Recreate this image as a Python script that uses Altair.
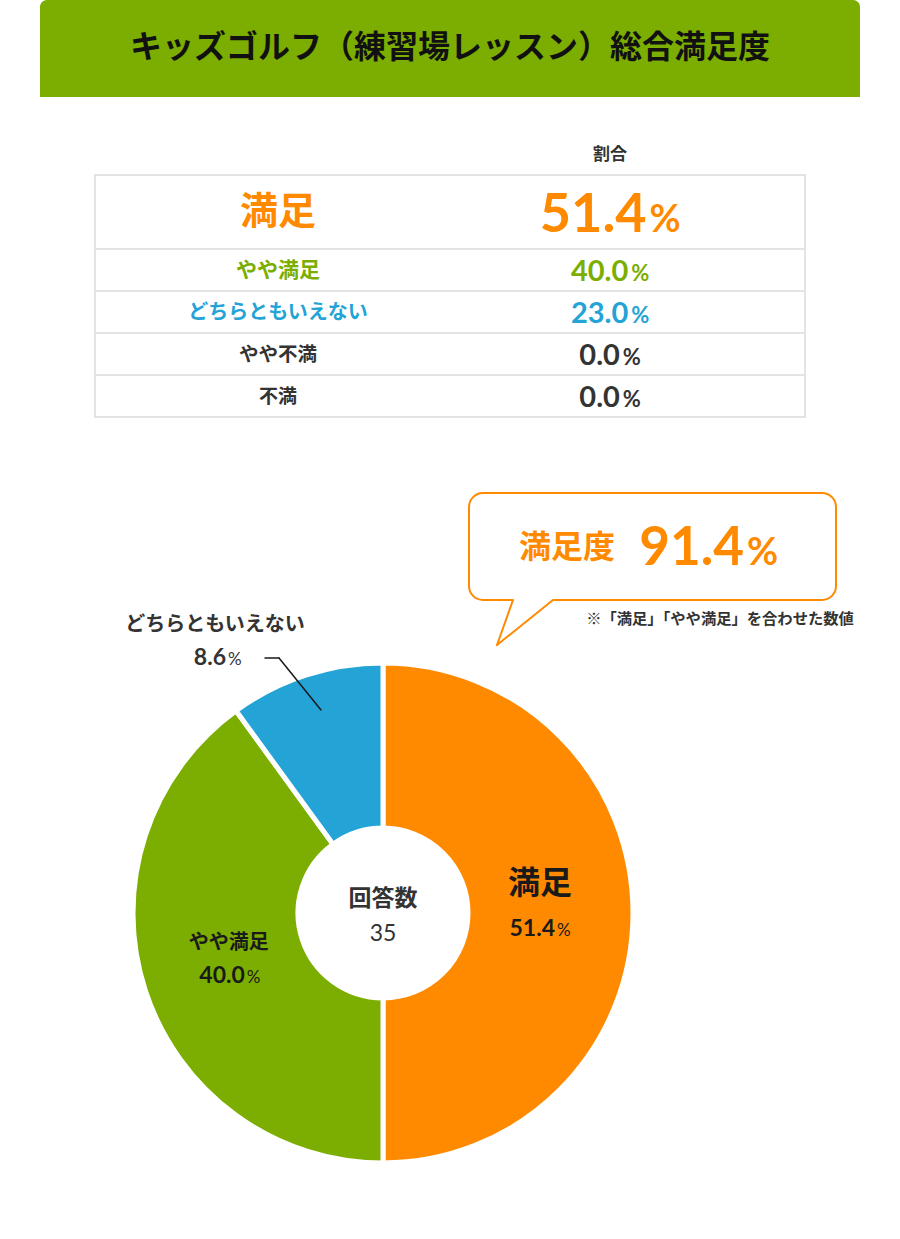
import altair as alt
import pandas as pd

# ---------------- data ----------------
title_text = "キッズゴルフ（練習場レッスン）総合満足度"
column_header = "割合"
table_labels = ["満足", "やや満足", "どちらともいえない", "やや不満", "不満"]
table_values = [51.4, 40.0, 23.0, 0.0, 0.0]
pie_labels = ["満足", "やや満足", "どちらともいえない"]
pie_values = [51.4, 40.0, 8.6]          # printed on the slices
pie_slice_share = [50.0, 40.0, 10.0]    # slice sizes as drawn in the picture
center_label = "回答数"
respondents = [35]
callout_label = "満足度"
callout_value = [91.4]
note_text = "※「満足」「やや満足」を合わせた数値"

# ---------------- style / layout ----------------
W, H = 900, 1225
JP = "Noto Sans CJK JP"
NUM = "Lato"
ORANGE = "#ff8a00"
GREEN = "#7bae00"
BLUE = "#23a3d6"
DARK = "#333333"
BLACK = "#1a1a1a"
GRID = "#e3e3e3"

row_colors = [ORANGE, GREEN, BLUE, DARK, DARK]
row_heights = [74, 42, 42, 42, 42]
label_sizes = [38, 21, 20, 19.5, 19]
num_sizes = [54, 29, 29, 29, 29]
pct_sizes = [38, 22, 22, 22, 22]
TABLE_L, TABLE_R, TABLE_T = 95, 805, 175
LABEL_X, VALUE_X = 278, 610

CX, CY, R_OUT, R_IN = 383, 913, 250, 85


def num_width(s, fs):
    w = 0.0
    for ch in s:
        w += 0.26 if ch == "." else 0.58
    return w * fs


def pct_width(fs):
    return 0.84 * fs


# table rows
tops = []
acc = TABLE_T
for h in row_heights:
    tops.append(acc)
    acc += h
TABLE_B = acc

rows = []
for i, (lab, val) in enumerate(zip(table_labels, table_values)):
    ns = f"{val:.1f}"
    nw = num_width(ns, num_sizes[i])
    pw = pct_width(pct_sizes[i])
    gap = 3
    total = nw + gap + pw
    split = VALUE_X - total / 2 + nw
    ymid = tops[i] + row_heights[i] / 2
    rows.append(dict(label=lab, num=ns, pct="%", ymid=ymid + 1,
                     base=ymid + 0.36 * num_sizes[i] + 1,
                     xl=LABEL_X, xn=split, xp=split + gap,
                     ls=label_sizes[i], ns=num_sizes[i], ps=pct_sizes[i],
                     color=row_colors[i]))
rows_df = pd.DataFrame(rows)
sep_df = pd.DataFrame({"yb": tops[1:]})


def vtext(text, x, y, size, color, font=JP, weight="bold", align="center", baseline="middle"):
    return alt.Chart(pd.DataFrame({"t": [text]})).mark_text(
        font=font, fontSize=size, fontWeight=weight, color=color, align=align, baseline=baseline
    ).encode(x=alt.value(x), y=alt.value(y), text="t:N")


def seg(x1, y1, x2, y2, color, width):
    return alt.Chart(pd.DataFrame({"a": [0]})).mark_rule(color=color, strokeWidth=width, strokeCap="round").encode(
        x=alt.value(x1), y=alt.value(y1), x2=alt.value(x2), y2=alt.value(y2))


layers = []

# header band
layers.append(alt.Chart(pd.DataFrame({"a": [0]})).mark_rect(
    color=GREEN, cornerRadiusTopLeft=7, cornerRadiusTopRight=7
).encode(x=alt.value(40), x2=alt.value(860), y=alt.value(0), y2=alt.value(97)))
layers.append(vtext(title_text, 450, 48, 32, "#111111"))

# table
layers.append(vtext(column_header, VALUE_X, 155, 17, DARK))
layers.append(alt.Chart(pd.DataFrame({"a": [0]})).mark_rect(
    fill="white", stroke=GRID, strokeWidth=2
).encode(x=alt.value(TABLE_L), x2=alt.value(TABLE_R), y=alt.value(TABLE_T), y2=alt.value(TABLE_B)))
layers.append(alt.Chart(sep_df).mark_rule(color=GRID, strokeWidth=2).encode(
    y=alt.Y("yb:Q", scale=None, axis=None), x=alt.value(TABLE_L), x2=alt.value(TABLE_R)))

base_rows = alt.Chart(rows_df)
layers.append(base_rows.mark_text(font=JP, fontWeight="bold", baseline="middle", align="center").encode(
    x=alt.X("xl:Q", scale=None, axis=None), y=alt.Y("ymid:Q", scale=None, axis=None),
    text="label:N", size=alt.Size("ls:Q", scale=None, legend=None),
    color=alt.Color("color:N", scale=None)))
layers.append(base_rows.mark_text(font=NUM, fontWeight="bold", baseline="alphabetic", align="right").encode(
    x=alt.X("xn:Q", scale=None, axis=None), y=alt.Y("base:Q", scale=None, axis=None),
    text="num:N", size=alt.Size("ns:Q", scale=None, legend=None),
    color=alt.Color("color:N", scale=None)))
layers.append(base_rows.mark_text(font=NUM, fontWeight="bold", baseline="alphabetic", align="left").encode(
    x=alt.X("xp:Q", scale=None, axis=None), y=alt.Y("base:Q", scale=None, axis=None),
    text="pct:N", size=alt.Size("ps:Q", scale=None, legend=None),
    color=alt.Color("color:N", scale=None)))

# pie
pie_df = pd.DataFrame({
    "label": pie_labels,
    "share": pie_slice_share,
    "order": list(range(len(pie_labels))),
    "color": [ORANGE, GREEN, BLUE],
})
pie_df["num"] = [f"{v:.1f}" for v in pie_values]
pie_df["pct"] = "%"

theta = alt.Theta("share:Q", stack=True)
order = alt.Order("order:Q")

layers.append(alt.Chart(pie_df).mark_arc(
    outerRadius=R_OUT, innerRadius=R_IN, stroke="white", strokeWidth=5
).encode(theta=theta, order=order, color=alt.Color("color:N", scale=None),
         x=alt.value(CX), y=alt.value(CY)))


def pie_text(field, idx, size, color, dx, dy, align, font, baseline, radius=160, weight="bold"):
    return alt.Chart(pie_df).transform_calculate(
        t=f"datum.order == {idx} ? datum.{field} : ''"
    ).mark_text(radius=radius, dx=dx, dy=dy, fontSize=size, font=font, fontWeight=weight,
                color=color, align=align, baseline=baseline).encode(
        theta=theta, order=order, text="t:N", x=alt.value(CX), y=alt.value(CY))


# 満足 (slice 0) label; slice-middle anchor near (543, 913)
layers.append(pie_text("label", 0, 32, BLACK, -3, -29, "center", JP, "middle"))
layers.append(pie_text("num", 0, 23, BLACK, 12, 23, "right", NUM, "alphabetic"))
layers.append(pie_text("pct", 0, 17, BLACK, 14, 23, "left", NUM, "alphabetic", weight="normal"))
# やや満足 (slice 1) label; slice-middle anchor near (231, 962)
layers.append(pie_text("label", 1, 20, BLACK, -2, -19, "center", JP, "middle"))
layers.append(pie_text("num", 1, 23, BLACK, 14, 21, "right", NUM, "alphabetic"))
layers.append(pie_text("pct", 1, 17, BLACK, 16, 21, "left", NUM, "alphabetic", weight="normal"))

# どちらともいえない outside label with leader
layers.append(seg(265, 658, 279, 658, BLACK, 1.5))
layers.append(seg(279, 658, 321, 710, BLACK, 1.5))
layers.append(vtext(pie_labels[2], 215, 625, 20, DARK))
layers.append(vtext(f"{pie_values[2]:.1f}", 226, 665, 23, DARK, font=NUM, align="right", baseline="alphabetic"))
layers.append(vtext("%", 228, 665, 17, DARK, font=NUM, weight="normal", align="left", baseline="alphabetic"))

# center
layers.append(vtext(center_label, CX, 899, 23, DARK))
layers.append(vtext(str(respondents[0]), CX, 941, 23, DARK, font=NUM, weight="normal", baseline="alphabetic"))

# callout bubble
layers.append(alt.Chart(pd.DataFrame({"a": [0]})).mark_rect(
    fill="white", stroke=ORANGE, strokeWidth=2, cornerRadius=14
).encode(x=alt.value(469), x2=alt.value(836), y=alt.value(493), y2=alt.value(600)))
layers.append(seg(514, 600, 552, 600, "white", 3))
layers.append(seg(513, 600, 497, 645, ORANGE, 2))
layers.append(seg(497, 645, 553, 600, ORANGE, 2))
layers.append(vtext(callout_label, 567, 548, 32, ORANGE))
layers.append(vtext(f"{callout_value[0]:.1f}", 744, 565, 53, ORANGE, font=NUM, align="right", baseline="alphabetic"))
layers.append(vtext("%", 747, 565, 38, ORANGE, font=NUM, align="left", baseline="alphabetic"))
layers.append(vtext(note_text, 720, 619, 15.3, DARK))

chart = alt.layer(*layers).properties(
    width=W, height=H, padding=0, background="white",
    autosize=alt.AutoSizeParams(type="none")
).configure_view(stroke=None, strokeWidth=0)

chart.save("out.html", embed_options={"renderer": "svg", "actions": False})
